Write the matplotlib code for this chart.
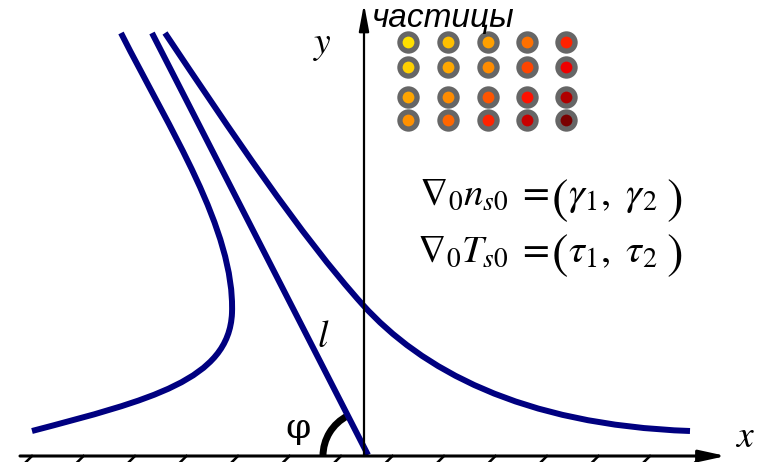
import matplotlib
matplotlib.use("Agg")
import matplotlib.pyplot as plt
from matplotlib.patches import Arc, PathPatch
from matplotlib.path import Path

plt.rcParams["mathtext.fontset"] = "stix"

W, H = 760, 462

# Field lines as cubic Bezier segments in canvas units (x right, y down):
# start point, then (control, control, end) triples
left_curve = [(121, 33),
              (170, 130), (235, 230), (232, 313),
              (229, 380), (150, 400), (32, 431)]

straight_line = [(152, 33), (368, 455)]

right_curve = [(165, 33),
               (230, 130), (300, 235), (363, 305),
               (420, 368), (520, 425), (690, 431)]

# Particle lattice: column/row positions and core colours
dot_cols = [408, 448, 488, 527, 566]
dot_rows = [42, 67, 97, 120]
dot_colors = [
    ["#FFE000", "#FFC000", "#FFA000", "#FF7000", "#FF2200"],
    ["#FFD000", "#FFA800", "#FF8C00", "#FF4500", "#EE0000"],
    ["#FFA500", "#FF8C00", "#FF5500", "#FF1100", "#B00000"],
    ["#FF9000", "#FF6600", "#FF2200", "#C80000", "#7A0000"],
]

# Ground hatch positions along the x axis
hatch_x = [30 + 51.5 * k for k in range(14)]

fig = plt.figure(figsize=(W / 100, H / 100), dpi=100)
ax = fig.add_axes([0, 0, 1, 1])
ax.set_xlim(0, W)
ax.set_ylim(H, 0)
ax.axis("off")

navy = "#000080"


def bezier(points):
    codes = [Path.MOVETO] + [Path.CURVE4] * (len(points) - 1)
    return Path(points, codes)


for pts in (left_curve, right_curve):
    ax.add_patch(PathPatch(bezier(pts), fill=False, edgecolor=navy, lw=4.3,
                           capstyle="butt"))
ax.plot([p[0] for p in straight_line], [p[1] for p in straight_line],
        color=navy, lw=4.3, solid_capstyle="butt")

# Axes with arrows
ax.annotate("", xy=(726, 456), xytext=(20, 456),
            arrowprops=dict(arrowstyle="-|>,head_length=1.6,head_width=0.35",
                            color="black", lw=2.2, shrinkA=0, shrinkB=0))
ax.annotate("", xy=(364, 4), xytext=(364, 456),
            arrowprops=dict(arrowstyle="-|>,head_length=1.6,head_width=0.3",
                            color="black", lw=1.6, shrinkA=0, shrinkB=0))

# Ground hatching
for hx in hatch_x:
    ax.plot([hx - 6, hx + 2], [464, 456], color="black", lw=1.8)

# Angle arc
ax.add_patch(Arc((368, 456), 90, 90, theta1=-180, theta2=-117,
                 color="black", lw=5))

# Particles
for r, yy in enumerate(dot_rows):
    for c, xx in enumerate(dot_cols):
        ax.scatter([xx], [yy], s=260, color="#666666", zorder=3, linewidths=0)
        ax.scatter([xx], [yy], s=72, color=dot_colors[r][c], zorder=4, linewidths=0)

ax.text(322, 45, r"$y$", fontsize=27, ha="center", va="center")
ax.text(745, 437, r"$x$", fontsize=27, ha="center", va="center")
ax.text(323, 337, r"$l$", fontsize=27, ha="center", va="center")
ax.text(298, 428, "φ", fontsize=26, family="DejaVu Serif", ha="center", va="center")
ax.text(372, 27, "частицы", fontsize=24, family="Liberation Sans", style="italic",
        ha="left", va="baseline")

# Gradient formulas with tall parentheses
formulas = [
    (205, 200, r"$\nabla_0 n_{s0}\; =$", r"$\gamma_1,\ \gamma_2$"),
    (262, 255, r"$\nabla_0 T_{s0}\; =$", r"$\tau_1,\ \tau_2$"),
]
for base, mid, lhs, inner in formulas:
    ax.text(549, base, lhs, fontsize=28, ha="right", va="baseline")
    ax.text(560, mid, r"$($", fontsize=36, ha="center", va="center")
    ax.text(568, base, inner, fontsize=29, ha="left", va="baseline")
    ax.text(674, mid, r"$)$", fontsize=36, ha="center", va="center")

fig.savefig("out.png", dpi=100)
